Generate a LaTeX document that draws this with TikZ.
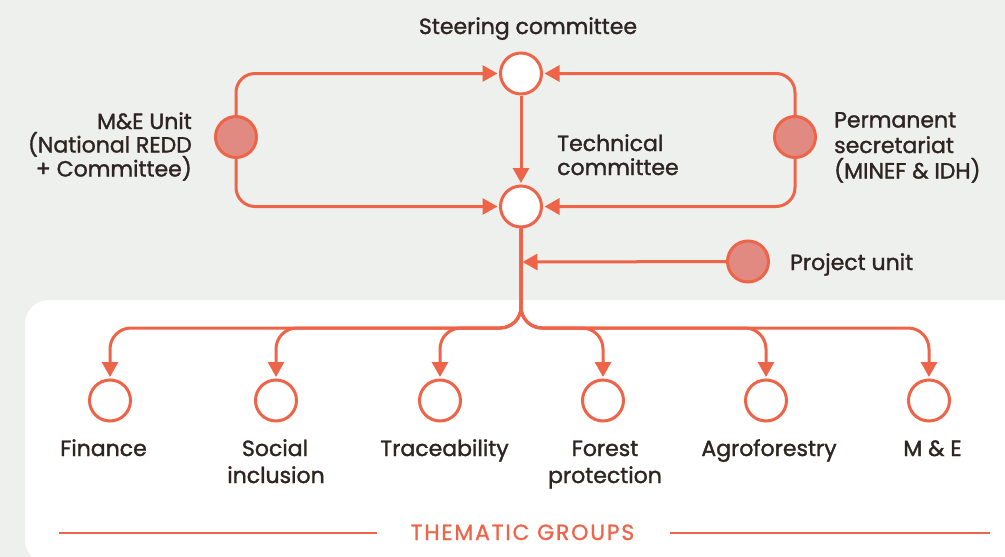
\documentclass[tikz,border=0pt]{standalone}
\usepackage{fontspec}
\setmainfont{Poppins}
\newfontfamily\labelfont{Poppins}[FakeBold=1.4]
\newfontfamily\capsfont{Poppins}[FakeBold=1.0,LetterSpace=8]
\usetikzlibrary{arrows.meta}
\definecolor{bg}{HTML}{EEF0ED}
\definecolor{accent}{HTML}{EE6448}
\definecolor{dotfill}{HTML}{E08A82}
\definecolor{ink}{HTML}{2E2522}

\begin{document}
\begin{tikzpicture}[x=1pt,y=-1pt,
  link/.style={draw=accent, line width=3pt},
  arr/.style={link, -{Triangle[length=15pt,width=16pt]}, shorten >=1.5pt},
  hub/.style={circle, draw=accent, line width=3pt, fill=white, minimum size=41pt, inner sep=0pt},
  unit/.style={hub, fill=dotfill},
  lbl/.style={text=ink, font=\labelfont\fontsize{22}{26}\selectfont, inner sep=0pt},
  rule/.style={draw=accent, line width=2pt},
]
% canvas and white panel
\fill[bg] (0,0) rectangle (1005,557);
\useasboundingbox (0,0) rectangle (1005,557);
\fill[white, rounded corners=24pt] (25,300) rectangle (1040,564);

% governance nodes
\node[hub]  (steer) at (521,73.5) {};
\node[hub]  (tech)  at (521,206.5) {};
\node[unit] (me)    at (236,137) {};
\node[unit] (perm)  at (795,137) {};
\node[unit] (proj)  at (748,261.5) {};

% thematic groups
\node[hub] (g1) at (110,400.5) {};
\node[hub] (g2) at (276,400.5) {};
\node[hub] (g3) at (440,400.5) {};
\node[hub] (g4) at (603,400.5) {};
\node[hub] (g5) at (766,400.5) {};
\node[hub] (g6) at (929,400.5) {};

\coordinate (tap)  at (522.5,262);
\coordinate (fork) at (521,328);

% connectors
\draw[arr] (steer) -- (tech);
\draw[arr, rounded corners=19pt] (me.north) |- (steer.west);
\draw[arr, rounded corners=19pt] (me.south) |- (tech.west);
\draw[arr, rounded corners=19pt] (perm.north) |- (steer.east);
\draw[arr, rounded corners=19pt] (perm.south) |- (tech.east);
\draw[arr, shorten >=0pt] (proj) -- (tap);
\foreach \g in {g1,g2,g3,g4,g5,g6}
  \draw[arr, rounded corners=21pt] (tech.south) -- (fork) -| (\g.north);

% labels
\node[lbl, anchor=base] (steerlbl) at (528,34) {Steering committee};
\node[lbl, anchor=base west] (tech1) at (557,151) {Technical};
\node[lbl, anchor=base west] (tech2) at (557,175) {committee};
\node[lbl, anchor=base east] (me1) at (192,129) {M\&E Unit};
\node[lbl, anchor=base east] (me2) at (192,152.5) {(National REDD};
\node[lbl, anchor=base east] (me3) at (192,176.5) {+ Committee)};
\node[lbl, anchor=base west] (perm1) at (834,127.5) {Permanent};
\node[lbl, anchor=base west] (perm2) at (834,153) {secretariat};
\node[lbl, anchor=base west] (perm3) at (834,178.5) {(MINEF \& IDH)};
\node[lbl, anchor=base west] (projlbl) at (790,270) {Project unit};

\node[lbl, anchor=base] (g1a) at (103.5,456) {Finance};
\node[lbl, anchor=base] (g2a) at (275,456) {Social};
\node[lbl, anchor=base] (g2b) at (276,483) {inclusion};
\node[lbl, anchor=base] (g3a) at (444.5,456) {Traceability};
\node[lbl, anchor=base] (g4a) at (605,456) {Forest};
\node[lbl, anchor=base] (g4b) at (605,483) {protection};
\node[lbl, anchor=base] (g5a) at (769,456) {Agroforestry};
\node[lbl, anchor=base] (g6a) at (932.5,456) {M \& E};

% footer caption between two rules
\node[text=accent, inner sep=0pt, font=\capsfont\fontsize{22}{26}\selectfont, anchor=base] (title) at (522.5,540) {THEMATIC GROUPS};
\coordinate (rl1) at (59,533);
\coordinate (rl2) at (377,533);
\coordinate (rr1) at (670,533);
\coordinate (rr2) at (990,533);
\draw[rule] (rl1) -- (rl2);
\draw[rule] (rr1) -- (rr2);
\end{tikzpicture}
\end{document}
